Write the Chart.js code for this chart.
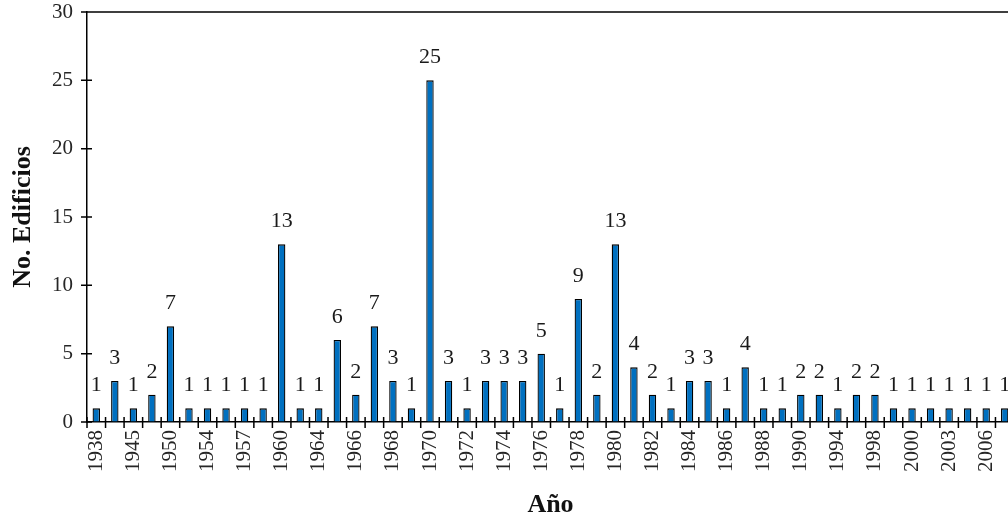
<!DOCTYPE html>
<html>
<head>
<meta charset="utf-8">
<script src="https://cdn.jsdelivr.net/npm/chart.js@4/dist/chart.umd.min.js"></script>
<style>
  html, body { margin: 0; padding: 0; background: #fff; overflow: hidden; }
  #wrap { width: 1016px; height: 521px; }
</style>
</head>
<body>
<div id="wrap"><canvas id="c" width="1016" height="521"></canvas></div>
<script>
// Tick labels shown under every other bar
const tickLabels = ['1938','1945','1950','1954','1957','1960','1964','1966','1968','1970',
  '1972','1974','1976','1978','1980','1982','1984','1986','1988','1990',
  '1994','1998','2000','2003','2006'];
// Number of buildings per category (50 bars)
const edificios = [1,3,1,2,7,1,1,1,1,1,
  13,1,1,6,2,7,3,1,25,3,
  1,3,3,3,5,1,9,2,13,4,
  2,1,3,3,1,4,1,1,2,2,
  1,2,2,1,1,1,1,1,1,1];
const yTicks = [0,5,10,15,20,25,30];

// categories: each labeled year followed by an unlabeled one
const categories = [];
tickLabels.forEach(t => { categories.push(t); categories.push(''); });

const serif = "'Liberation Serif', 'Times New Roman', serif";

const deco = {
  id: 'deco',
  afterDatasetsDraw(chart) {
    const {ctx, chartArea: a, scales: {x, y}} = chart;
    ctx.save();
    ctx.strokeStyle = '#000';
    ctx.lineWidth = 1.5;
    ctx.beginPath();
    yTicks.forEach(v => {
      const py = y.getPixelForValue(v);
      ctx.moveTo(a.left - 6, py); ctx.lineTo(a.left + 5, py);
    });
    for (let i = 0; i <= categories.length; i++) {
      const px = x.getPixelForValue(i - 0.5);
      ctx.moveTo(px, a.bottom - 5); ctx.lineTo(px, a.bottom + 6);
    }
    ctx.moveTo(a.left - 6, a.top); ctx.lineTo(a.right, a.top);
    ctx.moveTo(a.right, a.top); ctx.lineTo(a.right, a.bottom);
    ctx.stroke();
    // value labels
    const meta = chart.getDatasetMeta(0);
    ctx.fillStyle = '#1a1a1a';
    ctx.font = "22px " + serif;
    ctx.textAlign = 'center';
    ctx.textBaseline = 'alphabetic';
    meta.data.forEach((bar, i) => {
      ctx.fillText(String(edificios[i]), bar.x, bar.y - 17);
    });
    ctx.restore();
  }
};

new Chart(document.getElementById('c'), {
  type: 'bar',
  data: {
    labels: categories,
    datasets: [{
      data: edificios,
      backgroundColor: '#0070C0',
      borderColor: '#000',
      borderWidth: 1.3,
      barPercentage: 0.4,
      categoryPercentage: 1.0
    }]
  },
  options: {
    responsive: false,
    devicePixelRatio: 1,
    animation: false,
    layout: { padding: { left: 0, right: 2, top: 12, bottom: 0 } },
    plugins: { legend: { display: false }, tooltip: { enabled: false } },
    scales: {
      x: {
        grid: { drawOnChartArea: false, drawTicks: false },
        border: { display: true, color: '#000', width: 1.5 },
        ticks: {
          autoSkip: false, maxRotation: 90, minRotation: 90, padding: 8,
          color: '#262626', font: { family: serif, size: 21 }
        },
        title: {
          display: true, text: 'Año', color: '#111',
          font: { family: serif, size: 26, weight: 'bold' },
          padding: { top: 3, bottom: 0 }
        },
        afterFit: s => { s.height = 99; s.paddingLeft = 0; s.paddingRight = 0; }
      },
      y: {
        min: 0, max: 30,
        grid: { drawOnChartArea: false, drawTicks: false },
        border: { display: true, color: '#000', width: 1.5 },
        ticks: {
          stepSize: 5, padding: 14,
          color: '#262626', font: { family: serif, size: 21 }
        },
        title: {
          display: true, text: 'No. Edificios', color: '#111',
          font: { family: serif, size: 26, weight: 'bold' },
          padding: { top: 8, bottom: 0 }
        },
        afterFit: s => { s.width = 87; s.paddingTop = 0; s.paddingBottom = 0; }
      }
    }
  },
  plugins: [deco]
});
</script>
</body>
</html>
